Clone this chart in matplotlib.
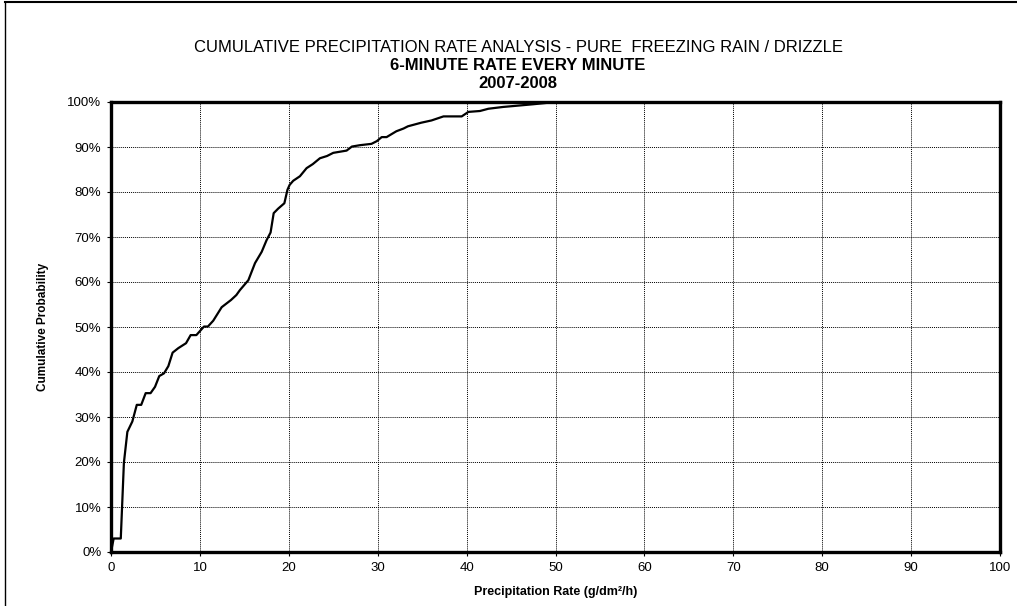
import matplotlib.pyplot as plt
from matplotlib.ticker import MultipleLocator, FuncFormatter
from matplotlib.lines import Line2D

plt.rcParams['font.family'] = ['Liberation Sans', 'DejaVu Sans']

# precipitation rate (g/dm2/h) and cumulative probability (%)
rate = [0.0, 0.3, 1.1, 1.45, 1.84, 2.4, 2.9, 3.4, 3.9, 4.45, 4.95, 5.43, 5.96,
        6.45, 6.93, 7.57, 8.44, 8.96, 9.6, 10.46, 10.9, 11.5, 12.45, 13.5,
        14.1, 14.5, 15.45, 16.2, 16.95, 17.5, 17.95, 18.3, 18.8, 19.5, 19.85,
        20.1, 20.5, 21.25, 22.0, 22.7, 23.5, 24.3, 25.0, 26.5, 27.1, 28.0,
        29.3, 29.9, 30.45, 31.0, 32.1, 32.9, 33.4, 34.9, 36.05, 37.4, 39.45,
        40.2, 41.5, 42.45, 44.1, 45.25, 47.5, 50.0]
prob = [0.0, 3.0, 3.0, 19.8, 26.7, 29.0, 32.7, 32.7, 35.3, 35.3, 36.7, 39.1,
        39.7, 41.3, 44.3, 45.3, 46.4, 48.2, 48.2, 50.1, 50.1, 51.4, 54.4,
        56.0, 57.1, 58.2, 60.4, 64.2, 66.7, 69.3, 71.0, 75.3, 76.3, 77.5,
        80.5, 81.6, 82.5, 83.5, 85.3, 86.2, 87.5, 88.0, 88.7, 89.2, 90.1,
        90.4, 90.7, 91.3, 92.2, 92.2, 93.5, 94.1, 94.6, 95.4, 95.9, 96.8,
        96.8, 97.8, 98.0, 98.5, 98.9, 99.1, 99.5, 100.0]

title_lines = ["CUMULATIVE PRECIPITATION RATE ANALYSIS - PURE  FREEZING RAIN / DRIZZLE",
               "6-MINUTE RATE EVERY MINUTE",
               "2007-2008"]

fig = plt.figure(figsize=(10.17, 6.06), dpi=100)
ax = fig.add_axes([111 / 1017, 1 - 552 / 606, 889 / 1017, 450 / 606])

ax.plot(rate, prob, color='black', lw=1.6, zorder=3)

ax.set_xlim(0, 100)
ax.set_ylim(0, 100)
ax.xaxis.set_major_locator(MultipleLocator(10))
ax.yaxis.set_major_locator(MultipleLocator(10))
ax.yaxis.set_major_formatter(FuncFormatter(lambda v, p: f"{v:.0f}%"))
ax.grid(True, color='black', linestyle=(0, (1, 1)), linewidth=0.7)
ax.set_axisbelow(True)
for s in ax.spines.values():
    s.set_linewidth(2.4)
ax.tick_params(labelsize=9.5, length=3, width=0.8, pad=4)

ax.set_xlabel("Precipitation Rate (g/dm²/h)", fontsize=9, fontweight='bold', labelpad=9)
ax.set_ylabel("Cumulative Probability", fontsize=8.5, fontweight='bold', labelpad=13)

cx = 518 / 1017
fig.text(cx, 1 - 48 / 606, title_lines[0], ha='center', va='center', fontsize=12)
fig.text(cx, 1 - 66 / 606, title_lines[1], ha='center', va='center', fontsize=12, fontweight='bold')
fig.text(cx, 1 - 83 / 606, title_lines[2], ha='center', va='center', fontsize=12, fontweight='bold')

# outer chart frame (left and top edges visible)
fig.add_artist(Line2D([5 / 1017, 5 / 1017], [0, 1 - 2 / 606], transform=fig.transFigure, color='black', lw=1.0))
fig.add_artist(Line2D([5 / 1017, 1], [1 - 2 / 606, 1 - 2 / 606], transform=fig.transFigure, color='black', lw=1.5))

fig.savefig("out.png", dpi=100)
